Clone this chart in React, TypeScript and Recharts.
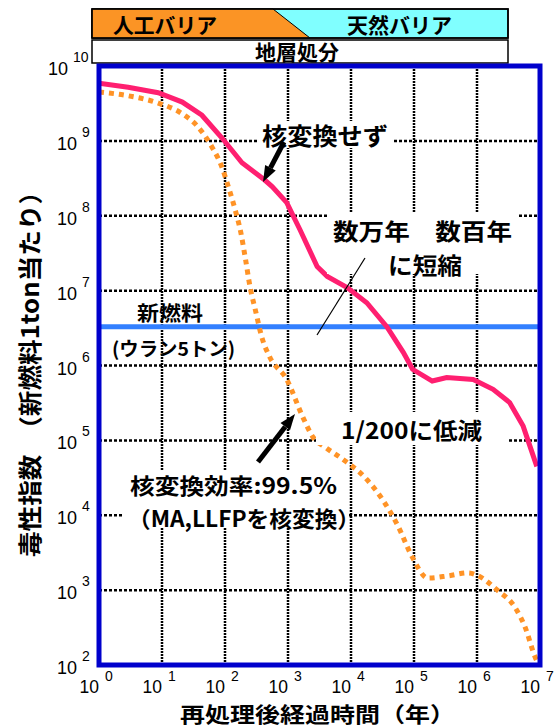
import React from 'react';
import { ComposedChart, Line, XAxis, YAxis, CartesianGrid, ReferenceLine } from 'recharts';

// 年 (years after reprocessing) and toxicity index per ton of fresh fuel
const xTicks = [1, 10, 100, 1e3, 1e4, 1e5, 1e6, 1e7];
const yTicks = [1e2, 1e3, 1e4, 1e5, 1e6, 1e7, 1e8, 1e9, 1e10];

// 核変換せず
const plainYears = [1, 2.9, 8.7, 21, 43, 89, 186, 427, 560, 955, 1550, 2900, 4200, 8700, 17800, 37000, 67600, 95000, 195000, 330000, 870000, 1.8e6, 3.3e6, 5.4e6, 8.9e6];
const plainToxicity = [5.9e9, 5.2e9, 4.4e9, 3.3e9, 2.2e9, 1.1e9, 5.1e8, 3.0e8, 2.45e8, 1.5e8, 6.5e7, 2.1e7, 1.55e7, 1.1e7, 6.9e6, 3.3e6, 1.5e6, 8.9e5, 6.2e5, 6.9e5, 6.5e5, 4.8e5, 3.2e5, 1.55e5, 4.5e4];

// 核変換効率 99.5%
const transYears = [1, 2.9, 8.7, 21, 37, 62, 89, 112, 145, 178, 209, 251, 302, 389, 513, 955, 1740, 2500, 3900, 7400, 16600, 32000, 56000, 93000, 166000, 347000, 724000, 1.05e6, 2.1e6, 4.0e6, 5.8e6, 8.3e6, 9.3e6];
const transToxicity = [4.5e9, 4.0e9, 3.2e9, 2.3e9, 1.55e9, 8.3e8, 4.5e8, 2.5e8, 1.2e8, 6e7, 2.8e7, 1.1e7, 5.6e6, 2.3e6, 1.3e6, 6.5e5, 2.0e5, 1.1e5, 8.1e4, 5.6e4, 3.2e4, 1.6e4, 7.1e3, 2.8e3, 1.45e3, 1.55e3, 1.7e3, 1.55e3, 1.0e3, 590, 320, 130, 105];

// 新燃料 (ウラン5トン)
const freshFuel = 3.3e6;

const plainData = plainYears.map((t, i) => ({ t, v: plainToxicity[i] }));
const transData = transYears.map((t, i) => ({ t, v: transToxicity[i] }));

const minorX: number[] = [];
for (let e = 0; e < 7; e++) for (let k = 2; k < 10; k++) minorX.push(k * Math.pow(10, e));
const minorY: number[] = [];
for (let e = 2; e < 10; e++) for (let k = 2; k < 10; k++) minorY.push(k * Math.pow(10, e));

const JP = '"Noto Sans CJK JP", "Noto Sans", sans-serif';
const LAT = '"Liberation Sans", Arial, sans-serif';
const FRAME = '#0000cc';
const PINK = '#ff1f70';
const ORANGE = '#ff9326';
const SKY = '#3380ff';

const XTick = ({ x, y, payload }: any) => {
  const exp = Math.round(Math.log10(payload.value));
  return (
    <g fontFamily={LAT} fill="#000">
      <text x={x} y={y + 27.5} textAnchor="end" fontSize={17.5}>10</text>
      <text x={x + 6} y={y + 16} fontSize={14}>{exp}</text>
    </g>
  );
};

const YTick = ({ x, y, payload }: any) => {
  const exp = Math.round(Math.log10(payload.value));
  const end = exp >= 10 ? x - 31 : x - 22;
  return (
    <g fontFamily={LAT} fill="#000">
      <text x={end} y={y + 9} textAnchor="end" fontSize={18}>10</text>
      <text x={end + 5} y={y - 4} fontSize={14}>{exp}</text>
    </g>
  );
};

const Arrow = ({ x1, y1, x2, y2 }: { x1: number; y1: number; x2: number; y2: number }) => {
  const dx = x2 - x1;
  const dy = y2 - y1;
  const len = Math.sqrt(dx * dx + dy * dy);
  const ux = dx / len;
  const uy = dy / len;
  const hl = 16;
  const hw = 6;
  const bx = x2 - ux * hl;
  const by = y2 - uy * hl;
  return (
    <g>
      <line x1={x1} y1={y1} x2={bx} y2={by} stroke="#000" strokeWidth={5} />
      <polygon points={`${x2},${y2} ${bx - uy * hw},${by + ux * hw} ${bx + uy * hw},${by - ux * hw}`} fill="#000" />
    </g>
  );
};

const Label = ({ x, y, len, size, children }: any) => (
  <text x={x} y={y} fontSize={size} fontFamily={JP} fontWeight={700} fill="#000" dominantBaseline="central" textLength={len} lengthAdjust="spacingAndGlyphs">
    {children}
  </text>
);

export default function App() {
  return (
    <div style={{ position: 'absolute', left: 0, top: 0, width: 555, height: 727, background: '#fff' }}>
      <ComposedChart width={555} height={727} margin={{ top: 66, right: 15, bottom: 22, left: 39 }}>
        <CartesianGrid vertical={false} stroke="#000" strokeWidth={2.5} strokeDasharray="3 2" />
        <CartesianGrid horizontal={false} stroke="#000" strokeWidth={2.5} strokeDasharray="2 1" />
        <XAxis
          type="number"
          dataKey="t"
          scale="log"
          domain={[1, 1e7]}
          allowDataOverflow
          ticks={xTicks}
          interval={0}
          axisLine={false}
          tickLine={false}
          tickSize={0}
          tickMargin={0}
          height={40}
          tick={<XTick />}
        />
        <YAxis
          type="number"
          dataKey="v"
          scale="log"
          domain={[1e2, 1e10]}
          allowDataOverflow
          ticks={yTicks}
          interval={0}
          axisLine={false}
          tickLine={false}
          tickSize={0}
          tickMargin={0}
          width={60}
          tick={<YTick />}
        />
        <XAxis xAxisId="minorBottom" type="number" scale="log" domain={[1, 1e7]} allowDataOverflow ticks={minorX} interval={0} orientation="bottom" mirror axisLine={false} tick={false} tickSize={6} tickLine={{ stroke: FRAME, strokeWidth: 2 }} height={0} />
        <XAxis xAxisId="minorTop" type="number" scale="log" domain={[1, 1e7]} allowDataOverflow ticks={minorX} interval={0} orientation="top" mirror axisLine={false} tick={false} tickSize={6} tickLine={{ stroke: FRAME, strokeWidth: 2 }} height={0} />
        <YAxis yAxisId="minorLeft" type="number" scale="log" domain={[1e2, 1e10]} allowDataOverflow ticks={minorY} interval={0} orientation="left" mirror axisLine={false} tick={false} tickSize={6} tickLine={{ stroke: FRAME, strokeWidth: 2 }} width={0} />
        <YAxis yAxisId="minorRight" type="number" scale="log" domain={[1e2, 1e10]} allowDataOverflow ticks={minorY} interval={0} orientation="right" mirror axisLine={false} tick={false} tickSize={6} tickLine={{ stroke: FRAME, strokeWidth: 2 }} width={0} />
        <ReferenceLine y={freshFuel} stroke={SKY} strokeWidth={5} />
        <Line data={transData} dataKey="v" type="monotone" stroke={ORANGE} strokeWidth={5} strokeDasharray="5 5" dot={false} isAnimationActive={false} />
        <Line data={plainData} dataKey="v" type="linear" stroke={PINK} strokeWidth={5} dot={false} isAnimationActive={false} />
      </ComposedChart>

      <svg width={555} height={727} style={{ position: 'absolute', left: 0, top: 0, pointerEvents: 'none' }}>
        {/* barrier banner */}
        <rect x={92} y={9} width={416} height={29} fill="#80ffff" stroke="#000" strokeWidth={1.5} />
        <polygon points="92,9 273,9 310,38 92,38" fill="#fb9425" stroke="#000" strokeWidth={1} />
        <rect x={92} y={9} width={416} height={29} fill="none" stroke="#000" strokeWidth={1.5} />
        <rect x={92} y={40} width={416} height={23} fill="#fff" stroke="#000" strokeWidth={1.5} />
        <Label x={113} y={24} len={104} size={21}>人工バリア</Label>
        <Label x={347} y={24} len={105} size={21}>天然バリア</Label>
        <Label x={255} y={51} len={84} size={21}>地層処分</Label>

        {/* white backings behind annotations */}
        <rect x={257} y={121} width={137} height={27} fill="#fff" />
        <rect x={327} y={212} width={191} height={62} fill="#fff" />
        <rect x={316} y={412} width={192} height={33} fill="#fff" />
        <rect x={124} y={470} width={223} height={58} fill="#fff" />

        {/* plot frame */}
        <rect x={99} y={66} width={441} height={599} fill="none" stroke={FRAME} strokeWidth={5} />

        <Label x={262} y={134} len={126} size={24}>核変換せず</Label>
        <Arrow x1={284} y1={142} x2={263} y2={182} />

        <Label x={333} y={230} len={179} size={23}>数万年　数百年</Label>
        <Label x={388} y={264} len={74} size={23}>に短縮</Label>
        <line x1={365} y1={258} x2={317} y2={335} stroke="#000" strokeWidth={1.2} />

        <Label x={137} y={312} len={66} size={20}>新燃料</Label>
        <Label x={112} y={347} len={123} size={19}>(ウラン5トン)</Label>

        <Label x={341} y={429} len={141} size={23}>1/200に低減</Label>

        <Arrow x1={258} y1={462} x2={295} y2={414} />
        <Label x={130} y={484} len={207} size={22}>核変換効率:99.5%</Label>
        <Label x={128} y={517} len={232} size={22}>（MA,LLFPを核変換）</Label>

        {/* axis titles */}
        <Label x={180} y={712.8} len={275} size={21}>再処理後経過時間（年）</Label>
        <g transform="translate(28,557) rotate(-90)">
          <Label x={0} y={0} len={378} size={24}>毒性指数　（新燃料1ton当たり）</Label>
        </g>
      </svg>
    </div>
  );
}
